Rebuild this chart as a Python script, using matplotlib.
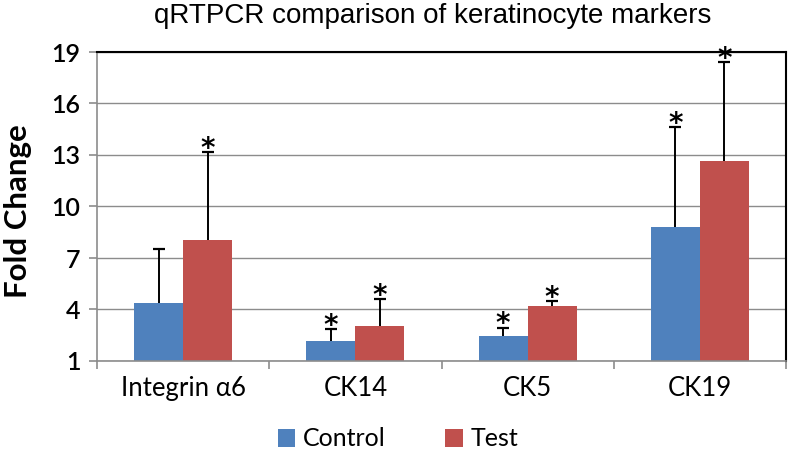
import matplotlib.pyplot as plt
import numpy as np

# values
markers = ["Integrin α6", "CK14", "CK5", "CK19"]
control = [4.4, 2.15, 2.45, 8.8]
test = [8.05, 3.05, 4.2, 12.65]
control_err_top = [7.55, 2.85, 2.95, 14.65]
test_err_top = [13.15, 4.6, 4.5, 18.4]
control_star = [False, True, True, True]
test_star = [True, True, True, True]
y_ticks = [1, 4, 7, 10, 13, 16, 19]

BLUE = "#4F81BD"
RED = "#C0504D"
GRID = "#8C8C8C"
TICK_FONT = "Lato"

fig = plt.figure(figsize=(7.92, 4.53), dpi=100)
ax = fig.add_axes([97 / 792, 1 - 361 / 453, (786 - 97) / 792, (361 - 52) / 453])

x = np.arange(len(markers))
width = 0.285
control = np.array(control)
test = np.array(test)

for offset, vals, tops, stars, color, label in [
    (-width / 2, control, np.array(control_err_top), control_star, BLUE, "Control"),
    (width / 2, test, np.array(test_err_top), test_star, RED, "Test"),
]:
    xs = x + offset
    ax.bar(xs, vals, width, color=color, label=label, zorder=2)
    # upper error bars only, capped at the top
    ax.vlines(xs, vals, tops, color="black", linewidth=1.4, zorder=3)
    ax.plot(xs, tops, ls="none", marker="_", markersize=8, mew=1.6,
            color="black", zorder=3, clip_on=False)
    for xi, top, star in zip(xs, tops, stars):
        if star:
            ax.annotate(
                "*", (xi, top), xytext=(0, -3.5), textcoords="offset points",
                ha="center", va="baseline", fontsize=20, fontweight="bold",
                family="DejaVu Sans", annotation_clip=False, zorder=4,
            )

ax.set_xlim(-0.5, len(markers) - 0.5)
ax.set_ylim(1, 19)
ax.set_yticks(y_ticks)
ax.set_yticklabels([str(t) for t in y_ticks], family=TICK_FONT, fontsize=18,
                   fontweight="semibold")
ax.yaxis.grid(True, color=GRID, linewidth=1.0, zorder=0)
ax.set_axisbelow(True)

# category labels centred, tick marks between categories
ax.set_xticks(x)
ax.set_xticklabels(markers, family=TICK_FONT, fontsize=18.5)
ax.tick_params(axis="x", length=0, pad=11)
ax.set_xticks(np.arange(len(markers) + 1) - 0.5, minor=True)
ax.tick_params(axis="x", which="minor", length=6, color=GRID, width=1.2)
ax.tick_params(axis="y", length=6, color=GRID, width=1.2, pad=6)

for side in ["left", "bottom"]:
    ax.spines[side].set_color(GRID)
    ax.spines[side].set_linewidth(1.2)
for side in ["top", "right"]:
    ax.spines[side].set_color("black")
    ax.spines[side].set_linewidth(1.5)

fig.text(18 / 792, 1 - 211 / 453, "Fold Change", rotation=90, ha="center",
         va="center", family=TICK_FONT, fontsize=22.5, fontweight="bold")
fig.text(0.546, 0.965, "qRTPCR comparison of keratinocyte markers",
         ha="center", va="center", family="Liberation Sans", fontsize=20)

fig.legend(
    loc="center", bbox_to_anchor=(398 / 792, 1 - 439 / 453), ncol=2,
    frameon=False, prop={"family": TICK_FONT, "size": 18},
    handlelength=0.7, handleheight=0.7, handletextpad=0.3, columnspacing=2.4,
)

fig.savefig("out.png", dpi=100)
